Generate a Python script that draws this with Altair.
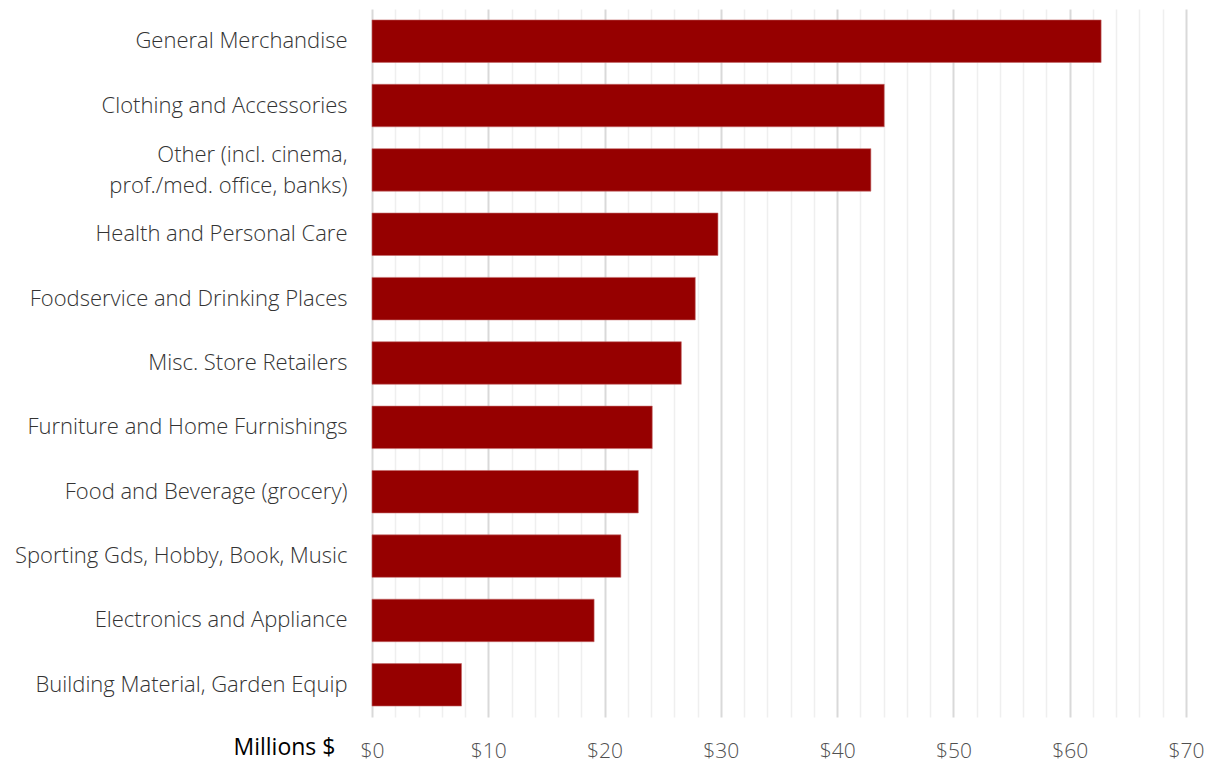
import altair as alt
import pandas as pd

categories = [
    "General Merchandise",
    "Clothing and Accessories",
    "Other (incl. cinema,|prof./med. office, banks)",
    "Health and Personal Care",
    "Foodservice and Drinking Places",
    "Misc. Store Retailers",
    "Furniture and Home Furnishings",
    "Food and Beverage (grocery)",
    "Sporting Gds, Hobby, Book, Music",
    "Electronics and Appliance",
    "Building Material, Garden Equip",
]
values = [62.7, 44.05, 42.9, 29.75, 27.8, 26.6, 24.1, 22.9, 21.4, 19.1, 7.7]
tick_values = list(range(0, 72, 2))

df = pd.DataFrame({"category": categories, "value": values})

FONT = "Open Sans"

bars = alt.Chart(df).mark_bar(color="#960000", stroke="#c46a6a", strokeWidth=0.6).encode(
    x=alt.X(
        "value:Q",
        scale=alt.Scale(domain=[0, 70], nice=False),
        axis=alt.Axis(
            values=tick_values,
            labelExpr="datum.value % 10 === 0 ? '$' + datum.value : ''",
            grid=True,
            gridColor={"condition": {"test": "datum.value % 10 === 0", "value": "#d9d9d9"}, "value": "#efefef"},
            gridWidth={"condition": {"test": "datum.value % 10 === 0", "value": 2}, "value": 1.5},
            domain=False,
            ticks=False,
            labelFont=FONT,
            labelFontSize=21,
            labelFontWeight=300,
            labelColor="#505050",
            labelPadding=23,
            labelFlush=False,
            title="Millions $",
            titleFont=FONT,
            titleFontSize=23,
            titleFontWeight="normal",
            titleColor="#000000",
            titleAngle=0,
            titleAlign="left",
            titleBaseline="alphabetic",
            titleAnchor="start",
            titleX=-139,
            titleY=37,
        ),
    ),
    y=alt.Y(
        "category:N",
        sort=categories,
        scale=alt.Scale(paddingInner=0.34, paddingOuter=0.17),
        axis=alt.Axis(
            title=None,
            domain=False,
            ticks=False,
            grid=False,
            labelExpr="split(datum.label, '|')",
            labelOffset={"condition": {"test": "indexof(datum.label, '|') >= 0", "value": -15}, "value": 0},
            labelFont=FONT,
            labelFontSize=22,
            labelFontWeight=300,
            labelColor="#333333",
            labelPadding=25,
            labelLineHeight=31,
            labelLimit=400,
        ),
    ),
)

chart = bars.properties(
    width=814,
    height=708,
    autosize=alt.AutoSizeParams(type="none"),
    padding={"left": 364, "top": 1, "right": 20, "bottom": 45},
).configure_view(stroke=None)

chart.save("out.html", embed_options={"renderer": "svg", "actions": False})
